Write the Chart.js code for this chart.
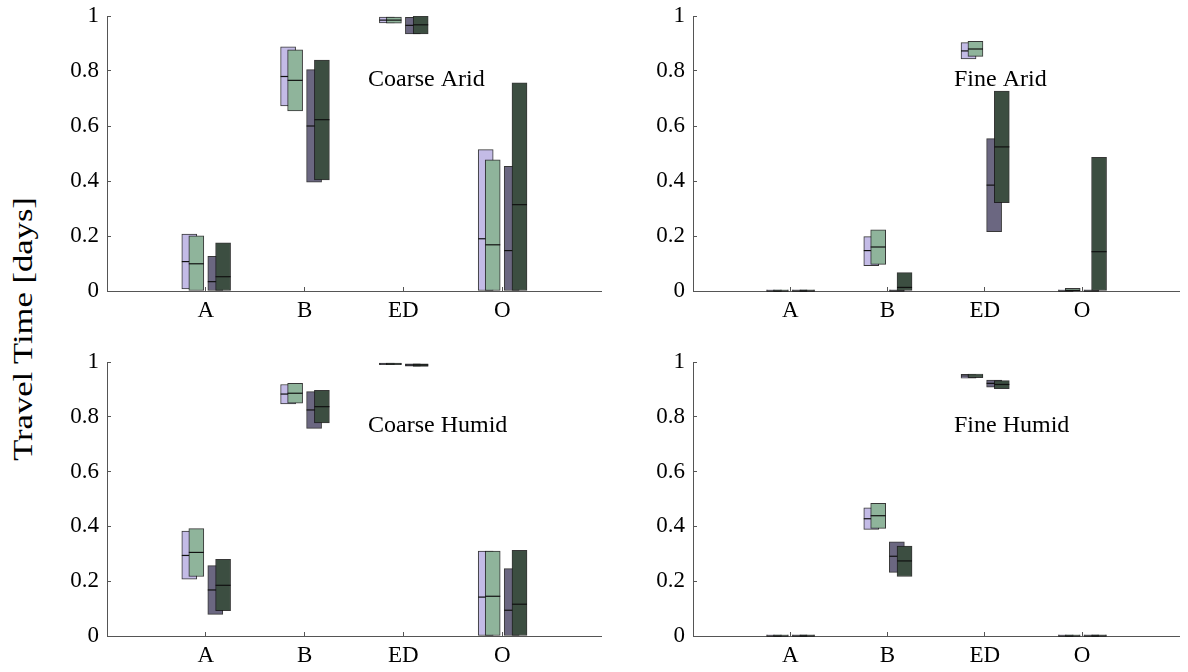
<!DOCTYPE html>
<html>
<head>
<meta charset="utf-8">
<title>Travel Time</title>
<script src="https://cdn.jsdelivr.net/npm/chart.js@4.4.0/dist/chart.umd.min.js"></script>
<style>
  body { margin: 0; background: #fff; width: 1188px; height: 672px; position: relative; overflow: hidden; font-family: 'Liberation Serif', 'Times New Roman', serif; }
  canvas { position: absolute; }
  #yTitle { position: absolute; left: 23px; top: 329px; transform: translate(-50%, -50%) rotate(-90deg) scaleX(1.28); font-size: 27px; white-space: nowrap; color: #000; font-family: 'Liberation Serif', serif; }
</style>
</head>
<body>
<div id="yTitle">Travel Time [days]</div>
<canvas id="coarseArid" width="610" height="336" style="left:0;top:0"></canvas>
<canvas id="fineArid" width="588" height="336" style="left:600px;top:0"></canvas>
<canvas id="coarseHumid" width="610" height="336" style="left:0;top:345px"></canvas>
<canvas id="fineHumid" width="588" height="336" style="left:600px;top:345px"></canvas>
<script>
'use strict';

// categories along x, 4 series per category
let categories = ['A', 'B', 'ED', 'O'];
let yTicks = [0, 0.2, 0.4, 0.6, 0.8, 1];

// rows = series (light purple, light green, dark purple, dark green), cols = categories
let coarseAridLow = [[0.008, 0.673, 0.975, 0], [0, 0.655, 0.974, 0], [0, 0.396, 0.935, 0], [0, 0.404, 0.935, 0]];
let coarseAridHigh = [[0.207, 0.888, 0.996, 0.514], [0.201, 0.877, 0.996, 0.477], [0.126, 0.805, 0.995, 0.453], [0.175, 0.840, 1.0, 0.757]];
let coarseAridMed = [[0.107, 0.780, 0.985, 0.190], [0.099, 0.766, 0.985, 0.168], [0.034, 0.600, 0.966, 0.147], [0.052, 0.623, 0.968, 0.314]];

let fineAridLow = [[0, 0.092, 0.844, 0], [0, 0.097, 0.853, 0], [0, 0, 0.216, 0], [0, 0, 0.321, 0]];
let fineAridHigh = [[0.004, 0.198, 0.903, 0.004], [0.004, 0.222, 0.908, 0.010], [0.004, 0.004, 0.554, 0.004], [0.004, 0.067, 0.727, 0.486]];
let fineAridMed = [[0, 0.147, 0.873, 0], [0, 0.160, 0.880, 0.002], [0, 0, 0.385, 0], [0, 0.013, 0.524, 0.143]];

let coarseHumidLow = [[0.207, 0.847, 0.990, 0], [0.217, 0.850, 0.990, 0], [0.079, 0.758, 0.985, 0], [0.092, 0.778, 0.984, 0]];
let coarseHumidHigh = [[0.383, 0.918, 0.996, 0.310], [0.392, 0.922, 0.996, 0.310], [0.257, 0.892, 0.993, 0.246], [0.280, 0.897, 0.993, 0.313]];
let coarseHumidMed = [[0.294, 0.883, 0.993, 0.142], [0.305, 0.886, 0.993, 0.145], [0.168, 0.825, 0.989, 0.094], [0.185, 0.837, 0.989, 0.116]];

let fineHumidLow = [[0, 0.389, 0.941, 0], [0, 0.393, 0.943, 0], [0, 0.232, 0.908, 0], [0, 0.217, 0.903, 0]];
let fineHumidHigh = [[0.004, 0.468, 0.955, 0.004], [0.004, 0.484, 0.956, 0.004], [0.004, 0.344, 0.934, 0.004], [0.004, 0.328, 0.932, 0.004]];
let fineHumidMed = [[0, 0.428, 0.949, 0], [0, 0.439, 0.949, 0], [0, 0.291, 0.922, 0], [0, 0.274, 0.918, 0]];

// STYLE
let seriesColors = ['#c3bbe6', '#8fb49b', '#6b6781', '#3c4e41'];
let seriesOffset = [-0.167, -0.096, 0.096, 0.175];
let boxEdge = 'rgba(20, 20, 20, 0.85)';
let axisColor = '#555';
let serif = "'Liberation Serif', 'Times New Roman', serif";

Chart.defaults.font.family = serif;
Chart.defaults.font.size = 23;
Chart.defaults.color = '#000';

// panel caption, placed relative to the plot area
const panelLabel = {
  id: 'panelLabel',
  afterDraw(chart, args, opts) {
    const ctx = chart.ctx;
    const area = chart.chartArea;
    ctx.save();
    ctx.font = '24px ' + serif;
    ctx.fillStyle = '#000';
    ctx.textAlign = 'left';
    ctx.textBaseline = 'alphabetic';
    ctx.fillText(opts.text, area.left + 261, area.top + 70);
    ctx.restore();
  }
};

function buildDatasets(low, high, med) {
  let sets = [];
  for (let s = 0; s < seriesColors.length; s++) {
    // box from low to high
    sets.push({
      type: 'bar',
      data: categories.map((c, i) => ({ x: i + 1 + seriesOffset[s], y: [low[s][i], high[s][i]] })),
      backgroundColor: seriesColors[s],
      borderColor: boxEdge,
      borderWidth: 1,
      borderSkipped: false,
      barThickness: 15,
      grouped: false,
      order: 8 - 2 * s
    });
    // median tick across the box
    sets.push({
      type: 'line',
      showLine: false,
      clip: false,
      data: categories.map((c, i) => ({ x: i + 1 + seriesOffset[s], y: med[s][i] })),
      pointStyle: 'line',
      pointRadius: 7.5,
      pointHoverRadius: 7.5,
      pointBorderWidth: 1.2,
      pointBorderColor: '#111',
      borderColor: '#111',
      order: 7 - 2 * s
    });
  }
  return sets;
}

function renderPanel(id, text, yWidth, padTop, padRight, low, high, med) {
  return new Chart(document.getElementById(id), {
    type: 'bar',
    data: { datasets: buildDatasets(low, high, med) },
    options: {
      responsive: false,
      animation: false,
      events: [],
      layout: { padding: { top: padTop, right: padRight, left: 0, bottom: 0 } },
      plugins: {
        legend: { display: false },
        tooltip: { enabled: false },
        panelLabel: { text: text }
      },
      scales: {
        x: {
          type: 'linear',
          min: 0,
          max: 5,
          offset: false,
          afterFit(scale) {
            scale.height = 45;
            scale.paddingLeft = 0;
            scale.paddingRight = 0;
          },
          afterBuildTicks(scale) { scale.ticks = categories.map((c, i) => ({ value: i + 1 })); },
          ticks: {
            autoSkip: false,
            maxRotation: 0,
            padding: 10,
            font: { family: serif, size: 23 },
            callback: (v) => categories[v - 1] || ''
          },
          grid: { offset: false, drawOnChartArea: false, tickLength: -4, color: axisColor },
          border: { color: axisColor, width: 1 }
        },
        y: {
          min: 0,
          max: 1,
          afterFit(scale) {
            scale.width = yWidth;
            scale.paddingTop = 0;
            scale.paddingBottom = 0;
          },
          afterBuildTicks(scale) { scale.ticks = yTicks.map((v) => ({ value: v })); },
          ticks: {
            padding: 12,
            font: { family: serif, size: 23 },
            callback: (v) => String(Number(v.toFixed(1)))
          },
          grid: { drawOnChartArea: false, tickLength: -4, color: axisColor },
          border: { color: axisColor, width: 1 }
        }
      }
    },
    plugins: [panelLabel]
  });
}

renderPanel('coarseArid', 'Coarse Arid', 107, 16, 9, coarseAridLow, coarseAridHigh, coarseAridMed);
renderPanel('fineArid', 'Fine Arid', 93, 16, 0, fineAridLow, fineAridHigh, fineAridMed);
renderPanel('coarseHumid', 'Coarse Humid', 107, 17, 9, coarseHumidLow, coarseHumidHigh, coarseHumidMed);
renderPanel('fineHumid', 'Fine Humid', 93, 17, 0, fineHumidLow, fineHumidHigh, fineHumidMed);
</script>
</body>
</html>
